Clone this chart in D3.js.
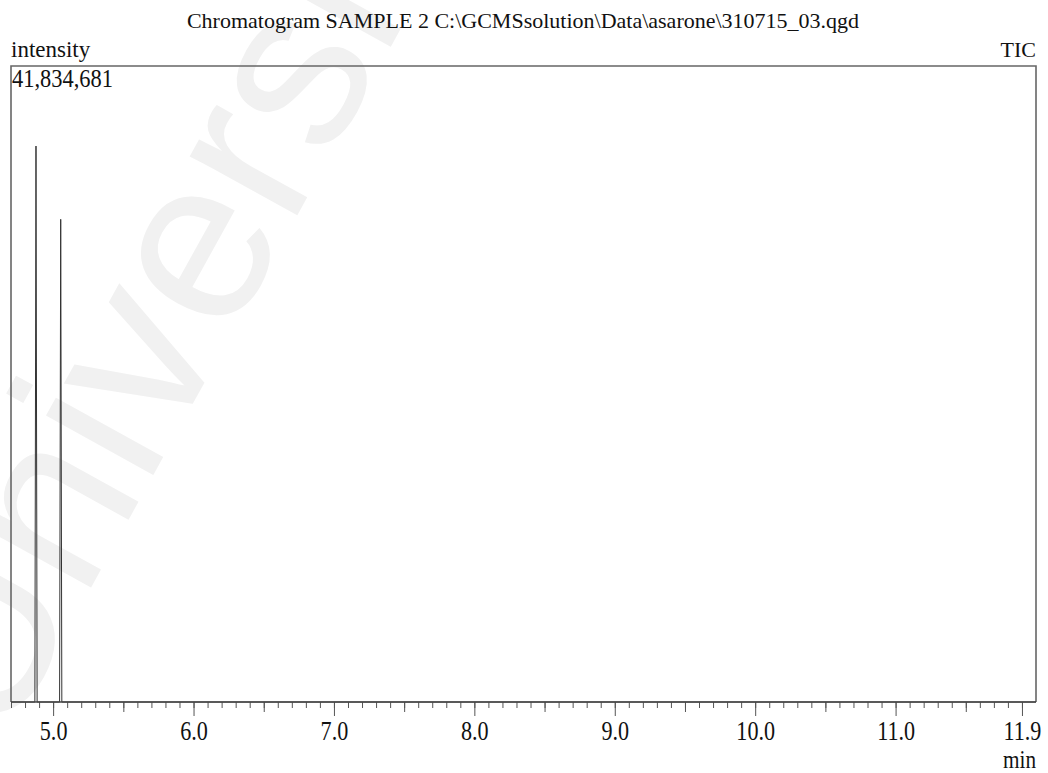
<!DOCTYPE html>
<html>
<head>
<meta charset="utf-8">
<script src="https://cdn.jsdelivr.net/npm/d3@7"></script>
<style>
  html, body { margin: 0; padding: 0; background: #fff; }
  svg { display: block; }
  text { font-family: "Liberation Serif", "Times New Roman", serif; fill: #111; }
</style>
</head>
<body>
<svg id="chart" width="1048" height="773"></svg>
<script>
// TIC trace: retention time (min) and intensity (counts)
const retentionTimes = [4.70, 4.870, 4.878, 4.886, 5.046, 5.054, 5.062, 12.0];
const intensities    = [0,    0,     36570000, 0,   0,     31750000, 0,   0];

const timeDomain = [4.70, 12.0];
const intensityMax = 41834681;

const majorTicks = [5.0, 6.0, 7.0, 8.0, 9.0, 10.0, 11.0, 11.9];
const majorTickLabels = ["5.0", "6.0", "7.0", "8.0", "9.0", "10.0", "11.0", "11.9"];

const titleText = "Chromatogram SAMPLE 2 C:\\GCMSsolution\\Data\\asarone\\310715_03.qgd";

const W = 1048, H = 773;
const m = { left: 11, right: 12, top: 66, bottom: 71 };

const svg = d3.select("#chart");

// faint background watermark
svg.append("text")
  .attr("transform", "translate(2,748) rotate(-61)")
  .style("font-family", "'Liberation Sans', Arial, sans-serif")
  .style("font-size", "232px")
  .style("fill", "#f1f1f1")
  .text("University");

const x = d3.scaleLinear().domain(timeDomain).range([m.left, W - m.right]);
const y = d3.scaleLinear().domain([0, intensityMax]).range([H - m.bottom, m.top]);

const plotRight = W - m.right, plotBottom = H - m.bottom;

// frame (top, left, right)
svg.append("path")
  .attr("d", `M${m.left},${plotBottom}V${m.top}H${plotRight}V${plotBottom}`)
  .attr("fill", "none")
  .attr("stroke", "#666")
  .attr("stroke-width", 1.6);

// trace
const pts = retentionTimes.map((t, i) => [t, intensities[i]]);
svg.append("path")
  .datum(pts)
  .attr("fill", "none")
  .attr("stroke", "#333")
  .attr("stroke-width", 1)
  .attr("d", d3.line().x(d => x(d[0])).y(d => y(d[1])));

// x axis: minor (0.1), half (x.5) and major ticks
const minorVals = d3.range(47, 120).map(v => v / 10);
const halfVals = [5.5, 6.5, 7.5, 8.5, 9.5, 10.5, 11.5];

const gMinor = svg.append("g").attr("transform", `translate(0,${plotBottom})`)
  .call(d3.axisBottom(x).tickValues(minorVals).tickSize(6).tickFormat(""));
const gHalf = svg.append("g").attr("transform", `translate(0,${plotBottom})`)
  .call(d3.axisBottom(x).tickValues(halfVals).tickSize(10).tickFormat(""));
const gMajor = svg.append("g").attr("transform", `translate(0,${plotBottom})`)
  .call(d3.axisBottom(x).tickValues(majorTicks).tickSize(14)
    .tickFormat((d, i) => majorTickLabels[i]));

[gMinor, gHalf, gMajor].forEach(g => {
  g.select(".domain").remove();
  g.selectAll(".tick line").attr("stroke", "#555").attr("stroke-width", 1);
});
gMajor.selectAll(".tick text")
  .attr("y", 0)
  .attr("dy", 0)
  .attr("transform", "translate(0,38) scale(0.82,1)")
  .style("font-size", "27px")
  .style("font-family", "'Liberation Serif', 'Times New Roman', serif")
  .attr("fill", "#111");

// baseline
svg.append("line")
  .attr("x1", m.left).attr("x2", plotRight)
  .attr("y1", plotBottom).attr("y2", plotBottom)
  .attr("stroke", "#444").attr("stroke-width", 1.6);

// labels
svg.append("text")
  .attr("x", (W) / 2 - 1).attr("y", 28)
  .attr("text-anchor", "middle")
  .style("font-size", "22px")
  .text(titleText);

svg.append("text")
  .attr("x", m.left).attr("y", 57)
  .style("font-size", "23px")
  .text("intensity");

svg.append("text")
  .attr("x", plotRight).attr("y", 57)
  .attr("text-anchor", "end")
  .style("font-size", "22px")
  .text("TIC");

svg.append("text")
  .attr("transform", `translate(${m.left + 1},87) scale(0.88,1)`)
  .style("font-size", "25.5px")
  .text(d3.format(",")(intensityMax));

svg.append("text")
  .attr("transform", `translate(${plotRight},768) scale(0.85,1)`)
  .attr("text-anchor", "end")
  .style("font-size", "25px")
  .text("min");
</script>
</body>
</html>
